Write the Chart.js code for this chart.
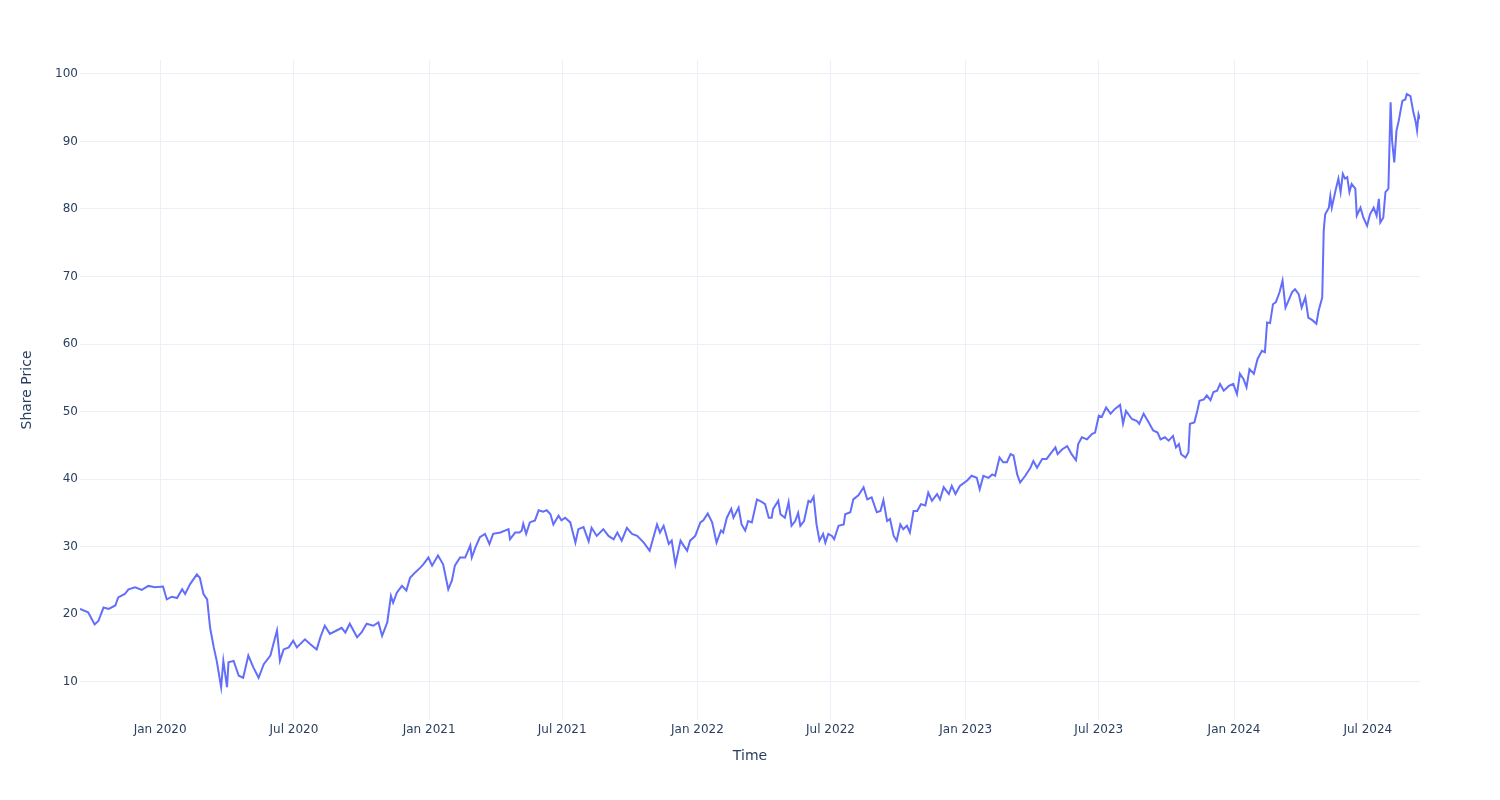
<!DOCTYPE html>
<html>
<head>
<meta charset="utf-8">
<title>Share Price</title>
<script src="https://cdn.jsdelivr.net/npm/chart.js@4.4.1/dist/chart.umd.min.js"></script>
<style>
  html, body { margin: 0; padding: 0; background: #fff; }
  #priceChart { display: block; }
</style>
</head>
<body>
<canvas id="priceChart" width="1500" height="800"></canvas>
<script>
const dates = [
  "2019-09-14", "2019-09-25", "2019-10-04", "2019-10-09", "2019-10-16", "2019-10-23",
  "2019-11-01", "2019-11-05", "2019-11-14", "2019-11-19", "2019-11-28", "2019-12-07",
  "2019-12-16", "2019-12-25", "2020-01-05", "2020-01-10", "2020-01-17", "2020-01-24",
  "2020-01-31", "2020-02-04", "2020-02-11", "2020-02-20", "2020-02-24", "2020-02-29",
  "2020-03-05", "2020-03-09", "2020-03-14", "2020-03-18", "2020-03-24", "2020-03-27",
  "2020-04-01", "2020-04-03", "2020-04-10", "2020-04-17", "2020-04-23", "2020-04-30",
  "2020-05-07", "2020-05-14", "2020-05-21", "2020-05-30", "2020-06-08", "2020-06-12",
  "2020-06-17", "2020-06-24", "2020-06-30", "2020-07-05", "2020-07-16", "2020-07-23",
  "2020-08-01", "2020-08-06", "2020-08-12", "2020-08-19", "2020-08-28", "2020-09-04",
  "2020-09-09", "2020-09-15", "2020-09-25", "2020-10-01", "2020-10-08", "2020-10-17",
  "2020-10-24", "2020-10-29", "2020-11-05", "2020-11-10", "2020-11-13", "2020-11-18",
  "2020-11-25", "2020-12-01", "2020-12-06", "2020-12-13", "2020-12-20", "2020-12-24",
  "2020-12-31", "2021-01-05", "2021-01-13", "2021-01-20", "2021-01-27", "2021-02-01",
  "2021-02-05", "2021-02-12", "2021-02-19", "2021-02-26", "2021-02-28", "2021-03-05",
  "2021-03-11", "2021-03-18", "2021-03-24", "2021-03-29", "2021-04-08", "2021-04-19",
  "2021-04-21", "2021-04-28", "2021-05-04", "2021-05-07", "2021-05-09", "2021-05-13",
  "2021-05-18", "2021-05-25", "2021-05-30", "2021-06-05", "2021-06-10", "2021-06-15",
  "2021-06-19", "2021-06-26", "2021-06-30", "2021-07-05", "2021-07-12", "2021-07-19",
  "2021-07-23", "2021-07-30", "2021-08-06", "2021-08-10", "2021-08-17", "2021-08-26",
  "2021-09-02", "2021-09-09", "2021-09-14", "2021-09-20", "2021-09-27", "2021-10-04",
  "2021-10-11", "2021-10-20", "2021-10-28", "2021-11-07", "2021-11-11", "2021-11-16",
  "2021-11-23", "2021-11-27", "2021-12-02", "2021-12-09", "2021-12-13", "2021-12-18",
  "2021-12-22", "2021-12-29", "2022-01-05", "2022-01-09", "2022-01-15", "2022-01-21",
  "2022-01-27", "2022-02-02", "2022-02-05", "2022-02-10", "2022-02-16", "2022-02-19",
  "2022-02-26", "2022-03-02", "2022-03-07", "2022-03-11", "2022-03-16", "2022-03-23",
  "2022-03-30", "2022-04-03", "2022-04-08", "2022-04-12", "2022-04-14", "2022-04-21",
  "2022-04-24", "2022-04-30", "2022-05-05", "2022-05-09", "2022-05-14", "2022-05-18",
  "2022-05-21", "2022-05-26", "2022-06-01", "2022-06-04", "2022-06-08", "2022-06-12",
  "2022-06-16", "2022-06-21", "2022-06-24", "2022-06-28", "2022-07-03", "2022-07-06",
  "2022-07-12", "2022-07-19", "2022-07-21", "2022-07-28", "2022-08-01", "2022-08-08",
  "2022-08-15", "2022-08-20", "2022-08-26", "2022-09-02", "2022-09-07", "2022-09-11",
  "2022-09-16", "2022-09-20", "2022-09-25", "2022-09-29", "2022-10-04", "2022-10-08",
  "2022-10-13", "2022-10-17", "2022-10-22", "2022-10-27", "2022-11-01", "2022-11-07",
  "2022-11-11", "2022-11-16", "2022-11-23", "2022-11-27", "2022-12-02", "2022-12-09",
  "2022-12-13", "2022-12-18", "2022-12-24", "2023-01-03", "2023-01-09", "2023-01-16",
  "2023-01-20", "2023-01-25", "2023-02-01", "2023-02-06", "2023-02-10", "2023-02-16",
  "2023-02-21", "2023-02-26", "2023-03-03", "2023-03-07", "2023-03-12", "2023-03-16",
  "2023-03-23", "2023-03-30", "2023-04-03", "2023-04-08", "2023-04-15", "2023-04-21",
  "2023-04-28", "2023-05-03", "2023-05-06", "2023-05-12", "2023-05-19", "2023-05-25",
  "2023-05-31", "2023-06-03", "2023-06-08", "2023-06-15", "2023-06-22", "2023-06-26",
  "2023-07-01", "2023-07-05", "2023-07-11", "2023-07-17", "2023-07-23", "2023-07-30",
  "2023-08-03", "2023-08-07", "2023-08-15", "2023-08-22", "2023-08-25", "2023-08-31",
  "2023-09-07", "2023-09-13", "2023-09-19", "2023-09-23", "2023-09-29", "2023-10-04",
  "2023-10-10", "2023-10-14", "2023-10-18", "2023-10-21", "2023-10-27", "2023-10-31",
  "2023-11-02", "2023-11-08", "2023-11-12", "2023-11-15", "2023-11-21", "2023-11-25",
  "2023-11-30", "2023-12-04", "2023-12-09", "2023-12-13", "2023-12-18", "2023-12-25",
  "2023-12-31", "2024-01-05", "2024-01-09", "2024-01-14", "2024-01-18", "2024-01-22",
  "2024-01-28", "2024-02-02", "2024-02-08", "2024-02-12", "2024-02-15", "2024-02-19",
  "2024-02-23", "2024-02-27", "2024-03-03", "2024-03-07", "2024-03-11", "2024-03-15",
  "2024-03-20", "2024-03-24", "2024-03-29", "2024-04-02", "2024-04-07", "2024-04-11",
  "2024-04-17", "2024-04-22", "2024-04-25", "2024-04-30", "2024-05-02", "2024-05-04",
  "2024-05-09", "2024-05-11", "2024-05-13", "2024-05-18", "2024-05-22", "2024-05-25",
  "2024-05-28", "2024-05-31", "2024-06-03", "2024-06-06", "2024-06-09", "2024-06-14",
  "2024-06-16", "2024-06-21", "2024-06-25", "2024-06-30", "2024-07-04", "2024-07-09",
  "2024-07-13", "2024-07-16", "2024-07-18", "2024-07-22", "2024-07-25", "2024-07-29",
  "2024-08-01", "2024-08-03", "2024-08-06", "2024-08-09", "2024-08-12", "2024-08-17",
  "2024-08-21", "2024-08-23", "2024-08-28", "2024-09-01", "2024-09-04", "2024-09-06",
  "2024-09-08", "2024-09-10"
];

const prices = [
  20.8, 20.3, 18.5, 19.0, 21.0, 20.8,
  21.3, 22.5, 23.0, 23.7, 24.0, 23.6,
  24.2, 24.0, 24.1, 22.2, 22.6, 22.4,
  23.7, 23.0, 24.5, 25.9, 25.4, 23.0,
  22.2, 18.0, 15.1, 13.1, 9.2, 13.1,
  9.2, 12.9, 13.1, 10.9, 10.6, 13.9,
  12.1, 10.6, 12.6, 13.9, 17.6, 13.1,
  14.8, 15.1, 16.1, 15.1, 16.3, 15.6,
  14.8, 16.6, 18.3, 17.1, 17.6, 18.0,
  17.3, 18.6, 16.6, 17.3, 18.6, 18.3,
  18.8, 16.8, 18.8, 22.7, 21.7, 23.2,
  24.2, 23.5, 25.4, 26.2, 26.9, 27.4,
  28.4, 27.2, 28.7, 27.4, 23.7, 25.0,
  27.2, 28.4, 28.4, 30.2, 28.4, 29.9,
  31.4, 31.9, 30.4, 31.9, 32.1, 32.6,
  31.1, 32.1, 32.1, 32.4, 33.4, 31.9,
  33.6, 33.9, 35.4, 35.2, 35.4, 34.8,
  33.3, 34.6, 33.9, 34.3, 33.6, 30.6,
  32.6, 32.9, 30.8, 32.8, 31.6, 32.6,
  31.6, 31.1, 32.1, 30.9, 32.8, 31.9,
  31.6, 30.6, 29.4, 33.3, 32.1, 33.1,
  30.4, 30.9, 27.4, 30.9, 30.2, 29.4,
  30.9, 31.6, 33.6, 33.9, 34.9, 33.6,
  30.6, 32.4, 32.1, 34.3, 35.6, 34.3,
  35.8, 33.3, 32.4, 33.8, 33.6, 37.0,
  36.6, 36.3, 34.3, 34.3, 35.6, 36.8,
  34.8, 34.3, 36.6, 33.1, 33.8, 35.0,
  33.1, 33.8, 36.8, 36.6, 37.4, 33.3,
  30.9, 31.9, 30.6, 31.9, 31.6, 31.1,
  33.1, 33.3, 34.8, 35.1, 37.0, 37.6,
  38.8, 37.0, 37.3, 35.1, 35.3, 36.9,
  33.8, 34.1, 31.6, 30.9, 33.3, 32.6,
  33.1, 32.1, 35.3, 35.3, 36.3, 36.1,
  38.0, 36.8, 37.8, 37.0, 38.8, 37.8,
  39.0, 37.8, 39.0, 39.8, 40.5, 40.2,
  38.5, 40.5, 40.2, 40.7, 40.5, 43.2,
  42.5, 42.5, 43.7, 43.5, 40.7, 39.5,
  40.5, 41.7, 42.7, 41.7, 43.0, 43.0,
  44.0, 44.7, 43.7, 44.4, 44.9, 43.7,
  42.8, 45.2, 46.2, 45.9, 46.7, 46.9,
  49.4, 49.2, 50.6, 49.7, 50.4, 51.0,
  48.2, 50.1, 48.9, 48.6, 48.2, 49.7,
  48.4, 47.2, 46.9, 45.9, 46.2, 45.7,
  46.4, 44.7, 45.2, 43.7, 43.2, 44.0,
  48.2, 48.4, 50.1, 51.6, 51.8, 52.4,
  51.7, 52.9, 53.1, 54.1, 53.1, 53.8,
  54.1, 52.6, 55.6, 54.8, 53.6, 56.3,
  55.6, 57.8, 59.0, 58.8, 63.2, 63.1,
  65.9, 66.2, 67.7, 69.4, 65.4, 66.4,
  67.7, 68.1, 67.4, 65.4, 66.9, 63.9,
  63.5, 63.0, 64.9, 66.9, 76.8, 79.2,
  80.2, 81.9, 80.2, 82.7, 84.5, 82.5,
  85.2, 84.5, 84.7, 82.5, 83.7, 83.0,
  79.0, 80.2, 78.7, 77.5, 79.2, 80.2,
  79.0, 81.5, 78.0, 78.7, 82.5, 83.0,
  95.8, 90.1, 86.9, 91.6, 93.0, 96.0,
  96.2, 97.0, 96.7, 94.3, 93.0, 91.6,
  94.0, 93.3
];

const xTickDates = [
  "2020-01-01", "2020-07-01", "2021-01-01", "2021-07-01", "2022-01-01",
  "2022-07-01", "2023-01-01", "2023-07-01", "2024-01-01", "2024-07-01"
];
const xTickLabels = [
  "Jan 2020", "Jul 2020", "Jan 2021", "Jul 2021", "Jan 2022",
  "Jul 2022", "Jan 2023", "Jul 2023", "Jan 2024", "Jul 2024"
];
const yTicks = [10, 20, 30, 40, 50, 60, 70, 80, 90, 100];

const textColor = "#2a3f5f";
const gridColor = "#EBF0F8";
const fontFamily = "'DejaVu Sans', Verdana, Arial, sans-serif";

let priceChart = null;

function createPriceChart() {

  const ctx = document.getElementById("priceChart").getContext("2d");

  if (priceChart) {
    priceChart.destroy();
  }

  const points = dates.map((d, i) => ({ x: Date.parse(d), y: prices[i] }));
  const tickTimes = xTickDates.map(d => Date.parse(d));

  priceChart = new Chart(ctx, {
    type: "line",
    data: {
      datasets: [{
        label: "Share Price",
        data: points,
        borderColor: "#636efa",
        borderWidth: 2,
        pointRadius: 0,
        tension: 0,
        fill: false
      }]
    },
    options: {
      responsive: false,
      animation: false,
      layout: {
        padding: { top: 60, right: 80, left: 0, bottom: 0 }
      },
      plugins: {
        legend: { display: false },
        tooltip: { enabled: false }
      },
      scales: {
        x: {
          type: "linear",
          min: Date.parse(dates[0]),
          max: Date.parse(dates[dates.length - 1]),
          afterBuildTicks: scale => {
            scale.ticks = tickTimes.map(v => ({ value: v }));
          },
          afterFit: scale => { scale.height = 80; },
          grid: { color: gridColor, lineWidth: 1, drawTicks: false },
          border: { display: false },
          ticks: {
            autoSkip: false,
            maxRotation: 0,
            minRotation: 0,
            padding: 3,
            color: textColor,
            font: { family: fontFamily, size: 12 },
            callback: (value, index) => xTickLabels[index]
          },
          title: {
            display: true,
            text: "Time",
            color: textColor,
            font: { family: fontFamily, size: 14 },
            padding: { top: 0, bottom: 35 }
          }
        },
        y: {
          type: "linear",
          min: 4.35,
          max: 102.05,
          afterBuildTicks: scale => {
            scale.ticks = yTicks.map(v => ({ value: v }));
          },
          afterFit: scale => { scale.width = 80; },
          grid: { color: gridColor, lineWidth: 1, drawTicks: false },
          border: { display: false },
          ticks: {
            padding: 2,
            color: textColor,
            font: { family: fontFamily, size: 12 }
          },
          title: {
            display: true,
            text: "Share Price",
            color: textColor,
            font: { family: fontFamily, size: 14 },
            padding: { top: 18.6, bottom: 0 }
          }
        }
      }
    }
  });
}

createPriceChart();
</script>
</body>
</html>
